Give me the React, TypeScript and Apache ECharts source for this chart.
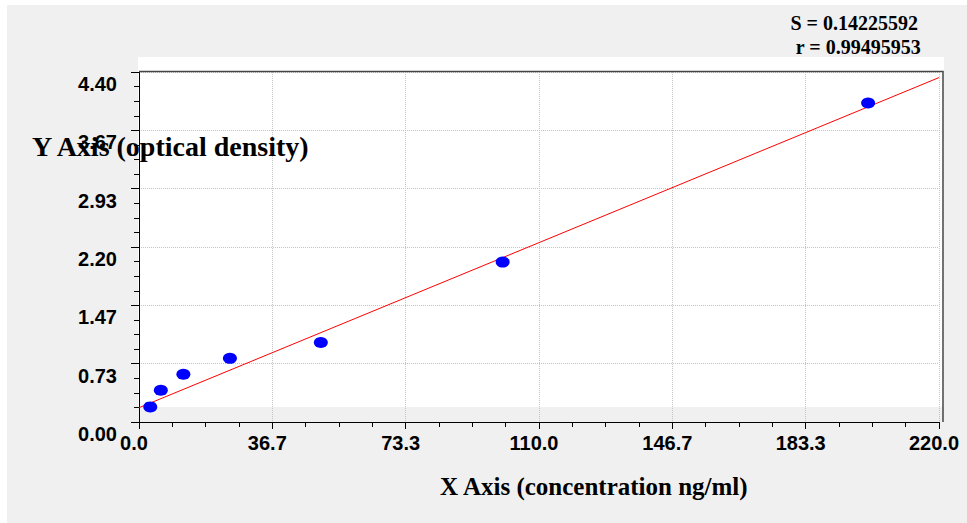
import React, { useEffect, useRef } from "react";
import * as echarts from "echarts";

const concentration = [3.1, 6.0, 12.2, 25.0, 50.0, 100.0, 200.5];
const opticalDensity = [0.19, 0.4, 0.6, 0.8, 1.0, 2.01, 4.01];
const fitLineX = [0, 220];
const fitLineY = [0.18, 4.33];
const statsLines = ["S = 0.14225592", "r = 0.99495953"];
const xAxisTitle = "X Axis (concentration ng/ml)";
const yAxisTitle = "Y Axis (optical density)";

export default function App() {
  const ref = useRef<HTMLDivElement>(null);
  useEffect(() => {
    document.body.style.margin = "0";
    const chart = echarts.init(ref.current!, null, { renderer: "svg" });
    const tickFont = {
      fontFamily: "Liberation Sans, Arial, sans-serif",
      fontWeight: "bold" as const,
      fontSize: 20,
      color: "#000",
    };
    const serif = "'Liberation Serif', 'Times New Roman', serif";
    chart.setOption({
      animation: false,
      backgroundColor: "#ffffff",
      grid: { left: 139, right: 28, top: 72, bottom: 101, containLabel: false },
      xAxis: {
        type: "value",
        min: 0,
        max: 220,
        interval: 220 / 6,
        axisLine: { show: true, onZero: false, lineStyle: { color: "#000", width: 1 } },
        axisTick: { show: true, length: 7, lineStyle: { color: "#000" } },
        minorTick: { show: true, splitNumber: 4, length: 5, lineStyle: { color: "#000" } },
        splitLine: { show: true, lineStyle: { color: "#c4c4c4", type: "dotted", width: 1 } },
        axisLabel: {
          ...tickFont,
          margin: 11,
          padding: [0, 10, 0, 0],
          formatter: (v: number) => v.toFixed(1),
        },
      },
      yAxis: {
        type: "value",
        min: 0,
        max: 4.4,
        interval: 4.4 / 6,
        axisLine: { show: true, onZero: false, lineStyle: { color: "#000", width: 1 } },
        axisTick: { show: true, length: 8, lineStyle: { color: "#000" } },
        minorTick: { show: true, splitNumber: 4, length: 5, lineStyle: { color: "#000" } },
        splitLine: { show: true, lineStyle: { color: "#c4c4c4", type: "dotted", width: 1 } },
        axisLabel: {
          ...tickFont,
          margin: 22,
          verticalAlign: "top",
          padding: [2, 0, 0, 0],
          formatter: (v: number) => v.toFixed(2),
        },
      },
      graphic: [
        { type: "rect", z: -20, shape: { x: 7, y: 5, width: 960, height: 518 }, style: { fill: "#f0f0f0" } },
        { type: "rect", z: -10, shape: { x: 138, y: 57, width: 806, height: 350 }, style: { fill: "#ffffff" } },
        {
          type: "polyline",
          z: 5,
          shape: { points: [[139, 71.5], [943, 71.5], [943, 422]] },
          style: { stroke: "#444", lineWidth: 1.5, fill: null },
        },
        {
          type: "text",
          z: 10,
          left: 32,
          top: 132,
          style: { text: yAxisTitle, font: `bold 28px ${serif}`, fill: "#000" },
        },
        {
          type: "text",
          z: 10,
          left: 440,
          top: 474,
          style: { text: xAxisTitle, font: `bold 25px ${serif}`, fill: "#000" },
        },
        {
          type: "text",
          z: 10,
          right: 49,
          top: 13,
          style: { text: statsLines[0], font: `bold 20px ${serif}`, fill: "#000" },
        },
        {
          type: "text",
          z: 10,
          right: 46,
          top: 37,
          style: { text: statsLines[1], font: `bold 20px ${serif}`, fill: "#000" },
        },
      ],
      series: [
        {
          type: "line",
          data: fitLineX.map((x, i) => [x, fitLineY[i]]),
          showSymbol: false,
          lineStyle: { color: "#ff0000", width: 1 },
          z: 3,
        },
        {
          type: "scatter",
          data: concentration.map((x, i) => [x, opticalDensity[i]]),
          symbol: "circle",
          symbolSize: [14, 11],
          itemStyle: { color: "#0000ff", opacity: 1 },
          z: 4,
        },
      ],
    });
    return () => chart.dispose();
  }, []);
  return (
    <div
      ref={ref}
      style={{ position: "fixed", left: 0, top: 0, width: 967, height: 523 }}
    />
  );
}
